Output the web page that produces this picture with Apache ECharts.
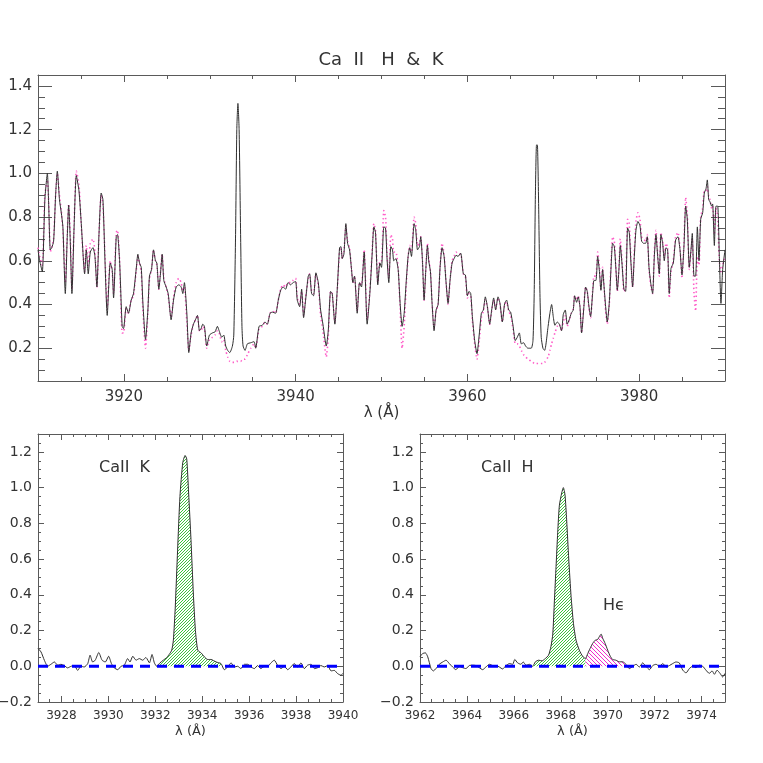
<!DOCTYPE html>
<html>
<head>
<meta charset="utf-8">
<script src="https://cdn.jsdelivr.net/npm/echarts@6/dist/echarts.min.js"></script>
<style>html,body{margin:0;padding:0;background:#fff}#c{width:763px;height:763px}</style>
</head>
<body>
<div id="c"></div>
<script>
// ---------------- DATA ----------------
const topWave = [
3910.0,3910.2,3910.5,3910.8,3911.09,3911.25,3911.43,3911.6,3911.82,3912.05,
3912.25,3912.5,3912.71,3912.9,3913.18,3913.4,3913.57,3913.75,3913.95,3914.2,
3914.46,3914.77,3915.04,3915.43,3915.62,3915.85,3916.09,3916.4,3916.63,3916.86,
3917.1,3917.36,3917.56,3917.8,3918.06,3918.41,3918.64,3918.8,3919.11,3919.26,
3919.5,3919.8,3919.96,3920.27,3920.54,3920.85,3921.12,3921.43,3921.63,3921.82,
3922.02,3922.21,3922.52,3922.79,3922.98,3923.22,3923.45,3923.68,3923.84,3924.07,
3924.26,3924.46,3924.65,3924.92,3925.16,3925.5,3925.78,3926.09,3926.4,3926.67,
3926.86,3927.05,3927.33,3927.56,3927.83,3928.1,3928.33,3928.57,3928.8,3928.99,
3929.19,3929.38,3929.65,3929.96,3930.31,3930.62,3930.89,3931.09,3931.4,3931.63,
3931.86,3932.09,3932.33,3932.64,3932.8,3933.0,3933.15,3933.28,3933.42,3933.6,
3933.75,3933.88,3934.11,3934.38,3934.77,3935.16,3935.35,3935.74,3936.12,3936.43,
3936.71,3937.02,3937.29,3937.67,3937.98,3938.26,3938.53,3938.84,3939.11,3939.42,
3939.69,3940.0,3940.19,3940.47,3940.7,3940.93,3941.16,3941.47,3941.63,3941.86,
3942.09,3942.36,3942.64,3942.91,3943.18,3943.57,3943.8,3944.07,3944.26,3944.57,
3944.84,3945.12,3945.27,3945.43,3945.62,3945.85,3946.05,3946.28,3946.51,3946.67,
3946.86,3947.17,3947.44,3947.67,3947.98,3948.33,3948.64,3948.91,3949.11,3949.3,
3949.57,3949.81,3950.0,3950.27,3950.47,3950.66,3950.85,3951.09,3951.28,3951.43,
3951.67,3951.94,3952.17,3952.4,3952.64,3952.87,3953.1,3953.29,3953.49,3953.8,
3953.99,3954.19,3954.42,3954.57,3954.77,3954.96,3955.16,3955.35,3955.5,3955.7,
3955.89,3956.12,3956.36,3956.59,3956.82,3957.05,3957.29,3957.52,3957.75,3957.98,
3958.22,3958.45,3958.68,3958.91,3959.22,3959.53,3959.77,3960.0,3960.19,3960.39,
3960.58,3960.85,3961.12,3961.4,3961.63,3961.86,3962.09,3962.33,3962.6,3962.83,
3963.06,3963.29,3963.57,3963.8,3964.07,3964.34,3964.57,3964.81,3965.04,3965.31,
3965.58,3965.81,3966.05,3966.28,3966.55,3966.78,3967.05,3967.44,3967.64,3967.78,
3967.92,3968.05,3968.15,3968.3,3968.45,3968.6,3968.8,3969.0,3969.4,3969.61,
3969.81,3970.0,3970.19,3970.47,3970.7,3970.97,3971.17,3971.4,3971.63,3971.86,
3972.1,3972.33,3972.49,3972.72,3972.91,3973.11,3973.3,3973.57,3973.77,3973.96,
3974.16,3974.35,3974.58,3974.74,3974.97,3975.17,3975.36,3975.55,3975.75,3975.9,
3976.1,3976.29,3976.52,3976.72,3976.91,3977.11,3977.3,3977.46,3977.65,3977.81,
3978.0,3978.23,3978.43,3978.66,3978.85,3979.05,3979.24,3979.44,3979.63,3979.86,
3980.1,3980.29,3980.52,3980.76,3980.95,3981.15,3981.38,3981.57,3981.77,3981.96,
3982.16,3982.35,3982.54,3982.74,3982.93,3983.13,3983.32,3983.51,3983.71,3983.98,
3984.25,3984.52,3984.76,3984.99,3985.22,3985.42,3985.61,3985.84,3986.04,3986.19,
3986.39,3986.58,3986.78,3986.97,3987.17,3987.4,3987.59,3987.79,3987.94,3988.1,
3988.25,3988.45,3988.56,3988.76,3988.95,3989.15,3989.34,3989.53,3989.73,3990.0
];
const topObserved = [
0.65,0.60,0.55,0.88,1.00,0.85,0.65,0.66,0.69,0.90,
1.01,0.88,0.82,0.755,0.45,0.70,0.855,0.70,0.45,0.75,
0.99,0.92,0.77,0.54,0.65,0.54,0.64,0.66,0.62,0.48,
0.72,0.91,0.88,0.60,0.35,0.59,0.56,0.43,0.71,0.72,
0.60,0.30,0.29,0.39,0.36,0.42,0.45,0.56,0.63,0.59,
0.57,0.41,0.24,0.37,0.53,0.56,0.65,0.60,0.59,0.47,
0.54,0.63,0.51,0.48,0.45,0.33,0.42,0.48,0.49,0.48,
0.45,0.50,0.36,0.18,0.27,0.31,0.33,0.35,0.28,0.29,
0.31,0.30,0.21,0.26,0.27,0.275,0.30,0.28,0.25,0.26,
0.21,0.19,0.18,0.21,0.26,0.70,1.20,1.32,1.20,0.70,
0.30,0.21,0.19,0.22,0.225,0.23,0.20,0.30,0.305,0.32,
0.31,0.36,0.365,0.36,0.42,0.465,0.48,0.47,0.50,0.49,
0.50,0.505,0.42,0.39,0.47,0.34,0.42,0.53,0.54,0.45,
0.44,0.545,0.50,0.375,0.31,0.21,0.28,0.46,0.45,0.31,
0.465,0.66,0.665,0.61,0.63,0.77,0.68,0.65,0.56,0.50,
0.53,0.36,0.50,0.48,0.64,0.31,0.45,0.63,0.755,0.73,
0.49,0.59,0.57,0.755,0.75,0.60,0.50,0.665,0.65,0.60,
0.61,0.56,0.405,0.30,0.36,0.50,0.62,0.66,0.62,0.77,
0.74,0.65,0.665,0.71,0.60,0.42,0.56,0.67,0.60,0.55,
0.405,0.28,0.375,0.40,0.57,0.66,0.62,0.50,0.405,0.51,
0.59,0.61,0.625,0.62,0.635,0.54,0.535,0.44,0.46,0.45,
0.345,0.235,0.175,0.27,0.36,0.375,0.435,0.39,0.31,0.375,
0.43,0.375,0.435,0.405,0.32,0.405,0.42,0.375,0.365,0.305,
0.235,0.25,0.27,0.22,0.225,0.21,0.20,0.20,0.235,0.45,
0.90,1.13,1.13,0.85,0.45,0.25,0.20,0.19,0.30,0.36,
0.40,0.345,0.305,0.32,0.31,0.28,0.355,0.375,0.31,0.33,
0.36,0.375,0.44,0.41,0.435,0.39,0.27,0.39,0.48,0.46,
0.39,0.345,0.45,0.51,0.51,0.62,0.56,0.465,0.56,0.49,
0.39,0.32,0.405,0.56,0.68,0.665,0.56,0.465,0.56,0.67,
0.59,0.47,0.46,0.75,0.73,0.59,0.48,0.62,0.74,0.78,
0.76,0.69,0.68,0.68,0.71,0.57,0.49,0.45,0.62,0.72,
0.62,0.54,0.72,0.68,0.60,0.66,0.65,0.45,0.565,0.59,
0.695,0.71,0.65,0.535,0.665,0.85,0.79,0.57,0.65,0.725,
0.53,0.53,0.755,0.60,0.79,0.82,0.91,0.93,0.97,0.88,
0.87,0.85,0.86,0.67,0.85,0.85,0.62,0.405,0.56,0.65
];
const topTemplate = [
0.66,0.62,0.58,0.90,0.97,0.86,0.64,0.66,0.70,0.90,
1.00,0.90,0.83,0.74,0.50,0.72,0.86,0.72,0.47,0.76,
1.01,0.95,0.76,0.55,0.67,0.58,0.68,0.70,0.64,0.48,
0.72,0.90,0.86,0.62,0.38,0.60,0.55,0.45,0.73,0.74,
0.60,0.27,0.27,0.38,0.36,0.42,0.44,0.55,0.62,0.59,
0.55,0.38,0.20,0.36,0.52,0.56,0.65,0.60,0.58,0.47,
0.55,0.63,0.52,0.48,0.44,0.34,0.43,0.50,0.52,0.50,
0.46,0.48,0.32,0.19,0.26,0.31,0.33,0.35,0.28,0.28,
0.30,0.29,0.20,0.24,0.25,0.26,0.28,0.27,0.23,0.24,
0.19,0.16,0.14,0.135,0.135,0.135,0.14,0.14,0.14,0.14,
0.145,0.15,0.15,0.17,0.20,0.22,0.20,0.29,0.30,0.32,
0.31,0.36,0.37,0.36,0.42,0.47,0.49,0.48,0.50,0.50,
0.51,0.52,0.43,0.40,0.46,0.35,0.43,0.52,0.54,0.46,
0.45,0.54,0.49,0.35,0.28,0.16,0.25,0.46,0.45,0.32,
0.46,0.65,0.66,0.61,0.64,0.76,0.69,0.66,0.56,0.50,
0.53,0.37,0.50,0.49,0.65,0.33,0.46,0.64,0.77,0.74,
0.50,0.60,0.60,0.83,0.80,0.62,0.52,0.72,0.70,0.64,
0.64,0.57,0.38,0.20,0.30,0.48,0.62,0.67,0.64,0.80,
0.77,0.67,0.68,0.71,0.60,0.42,0.56,0.68,0.61,0.55,
0.41,0.29,0.37,0.40,0.57,0.68,0.63,0.50,0.40,0.51,
0.60,0.62,0.64,0.63,0.63,0.54,0.53,0.43,0.45,0.44,
0.33,0.22,0.15,0.24,0.34,0.37,0.42,0.39,0.31,0.37,
0.42,0.38,0.43,0.40,0.32,0.40,0.41,0.37,0.35,0.29,
0.22,0.22,0.21,0.19,0.17,0.16,0.15,0.14,0.135,0.13,
0.13,0.13,0.13,0.13,0.13,0.13,0.13,0.135,0.16,0.19,
0.22,0.245,0.27,0.30,0.31,0.28,0.32,0.35,0.30,0.33,
0.36,0.38,0.44,0.42,0.44,0.39,0.27,0.40,0.48,0.46,
0.38,0.34,0.46,0.53,0.53,0.64,0.58,0.47,0.57,0.49,
0.37,0.31,0.40,0.58,0.71,0.69,0.56,0.46,0.57,0.70,
0.61,0.46,0.47,0.79,0.77,0.60,0.48,0.64,0.78,0.82,
0.79,0.71,0.70,0.69,0.72,0.56,0.48,0.45,0.64,0.74,
0.63,0.53,0.73,0.69,0.61,0.68,0.66,0.43,0.55,0.60,
0.71,0.73,0.66,0.52,0.68,0.89,0.81,0.56,0.64,0.70,
0.45,0.37,0.62,0.58,0.80,0.84,0.92,0.92,0.94,0.90,
0.88,0.84,0.85,0.72,0.84,0.80,0.60,0.55,0.58,0.62
];

const kWave = [
3927.0,3927.13,3927.27,3927.41,3927.55,3927.70,3927.84,3927.98,3928.12,3928.26,
3928.41,3928.55,3928.69,3928.83,3928.97,3929.12,3929.22,3929.33,3929.44,3929.59,
3929.73,3929.87,3930.01,3930.13,3930.25,3930.4,3930.54,3930.68,3930.82,3930.92,
3931.04,3931.18,3931.32,3931.46,3931.6,3931.75,3931.86,3931.96,3932.06,3932.2,
3932.34,3932.49,3932.6,3932.7,3932.77,3932.85,3932.95,3933.05,3933.17,3933.27,
3933.34,3933.42,3933.52,3933.62,3933.71,3933.81,3933.95,3934.09,3934.23,3934.37,
3934.59,3934.8,3934.94,3935.08,3935.23,3935.37,3935.51,3935.65,3935.8,3935.94,
3936.08,3936.22,3936.36,3936.5,3936.65,3936.79,3936.93,3937.07,3937.21,3937.36,
3937.5,3937.64,3937.78,3937.92,3938.07,3938.21,3938.35,3938.49,3938.64,3938.78,
3938.92,3939.06,3939.2,3939.35,3939.49,3939.63,3939.77,3939.91,3940.0
];
const kResidual = [
0.10,0.08,0.034,0.0,0.011,0.024,0.006,0.011,0.004,-0.009,
0.0,0.004,-0.023,0.0,-0.004,0.015,0.062,0.024,0.034,0.077,
0.034,0.024,0.056,0.015,-0.009,-0.019,0.0,0.006,0.043,0.024,
0.056,0.034,0.043,0.034,0.049,0.019,0.066,0.019,0.0,0.019,
0.034,0.049,0.068,0.09,0.146,0.33,0.65,0.95,1.14,1.18,
1.16,0.97,0.71,0.41,0.20,0.09,0.075,0.053,0.038,0.038,
0.024,0.015,-0.019,-0.004,0.019,-0.004,0.0,-0.013,0.011,0.011,
-0.004,-0.013,0.004,-0.013,0.0,0.0,0.019,0.034,0.006,-0.013,
0.0,-0.019,-0.004,0.015,-0.004,0.019,-0.013,0.006,0.011,-0.013,
-0.008,0.004,-0.004,0.004,-0.026,-0.023,-0.041,-0.05,-0.04
];

const hWave = [
3962.0,3962.11,3962.23,3962.33,3962.47,3962.57,3962.68,3962.82,3962.97,3963.11,
3963.25,3963.39,3963.53,3963.68,3963.82,3963.96,3964.1,3964.25,3964.39,3964.53,
3964.67,3964.81,3964.96,3965.1,3965.24,3965.38,3965.52,3965.67,3965.81,3965.95,
3966.04,3966.16,3966.3,3966.4,3966.52,3966.66,3966.8,3966.92,3967.06,3967.2,
3967.34,3967.48,3967.58,3967.66,3967.73,3967.8,3967.87,3967.94,3968.04,3968.11,
3968.18,3968.25,3968.34,3968.44,3968.54,3968.65,3968.79,3968.93,3969.05,3969.15,
3969.25,3969.36,3969.47,3969.57,3969.64,3969.72,3969.79,3969.89,3970.0,3970.11,
3970.21,3970.35,3970.5,3970.64,3970.78,3970.92,3971.07,3971.21,3971.35,3971.49,
3971.63,3971.78,3971.92,3972.06,3972.2,3972.35,3972.49,3972.63,3972.77,3972.91,
3973.05,3973.2,3973.34,3973.48,3973.62,3973.76,3973.91,3974.05,3974.19,3974.33,
3974.45,3974.55,3974.66,3974.79,3974.9,3975.0
];
const hResidual = [
0.053,0.071,0.075,0.053,-0.013,-0.026,-0.013,0.011,0.024,0.034,
0.015,-0.004,-0.019,0.0,-0.008,-0.013,0.004,0.006,0.004,-0.008,
-0.019,-0.004,0.011,0.004,0.004,-0.004,-0.015,0.004,0.015,0.011,
0.038,0.019,0.011,0.024,0.006,0.011,0.0,0.025,0.034,0.03,
0.043,0.062,0.11,0.18,0.37,0.56,0.75,0.90,0.97,1.0,
0.96,0.82,0.60,0.39,0.24,0.146,0.09,0.056,0.043,0.071,
0.10,0.128,0.146,0.15,0.165,0.18,0.156,0.128,0.09,0.056,
0.038,0.034,0.025,0.025,0.011,-0.013,0.0,0.011,-0.004,0.019,
0.0,-0.019,0.004,0.011,0.0,0.015,-0.004,0.004,0.015,0.024,
0.019,-0.022,-0.037,-0.013,0.0,-0.008,0.006,0.0,-0.022,-0.04,
-0.026,-0.045,-0.022,-0.04,-0.06,-0.04
];

const kFillRange = [3932.06, 3934.8];
const hFillRange = [3966.8, 3969.05];
const heFillRange = [3969.05, 3970.78];
const baseline = 0;

const topXRange = [3910, 3990], topYRange = [0.05, 1.45];
const kXRange = [3927, 3940], hXRange = [3962, 3975], botYRange = [-0.2, 1.3];
const topXTicks = [3920, 3940, 3960, 3980];
const topYTicks = [0.2, 0.4, 0.6, 0.8, 1.0, 1.2, 1.4];
const kXTicks = [3928, 3930, 3932, 3934, 3936, 3938, 3940];
const hXTicks = [3962, 3964, 3966, 3968, 3970, 3972, 3974];
const botYTicks = [-0.2, 0.0, 0.2, 0.4, 0.6, 0.8, 1.0, 1.2];

const titleText = 'Ca  II   H  &  K';
const xName = 'λ (Å)';
const kLabel = 'CaII  K', hLabel = 'CaII  H', heLabel = 'Hϵ';

// ---------------- CHART ----------------
const FRAME = '#5a5a5a', TEXT = '#333', FONT = 'DejaVu Sans';
const zip = (a, b) => a.map((x, i) => [x, b[i]]);
const within = (w, v, r) => zip(w, v).filter(p => p[0] >= r[0] - 1e-9 && p[0] <= r[1] + 1e-9);

function hatch(color, size, dir) {
  const c = document.createElement('canvas');
  c.width = size; c.height = size;
  const g = c.getContext('2d');
  g.strokeStyle = color; g.lineWidth = 1;
  g.beginPath();
  if (dir > 0) {
    g.moveTo(0, size); g.lineTo(size, 0);
    g.moveTo(-1, 1); g.lineTo(1, -1);
    g.moveTo(size - 1, size + 1); g.lineTo(size + 1, size - 1);
  } else {
    g.moveTo(0, 0); g.lineTo(size, size);
    g.moveTo(size - 1, -1); g.lineTo(size + 1, 1);
    g.moveTo(-1, size - 1); g.lineTo(1, size + 1);
  }
  g.stroke();
  return c;
}
const greenHatch = hatch('#3cc43c', 3, 1);
const pinkHatch = hatch('#f22ccc', 4, -1);

const xAxes = [], yAxes = [];
function addAxes(list, dim, grid, range, majors, minorInt, majLen, minLen, label, name) {
  const posMain = dim === 'x' ? 'bottom' : 'left';
  const posOpp = dim === 'x' ? 'top' : 'right';
  const base = () => ({type: 'value', gridIndex: grid, min: range[0], max: range[1],
    splitLine: {show: false}, minorTick: {show: false}, axisPointer: {show: false}, silent: true});
  const idx = list.length;
  const main = Object.assign(base(), {
    position: posMain,
    axisLine: {show: true, onZero: false, lineStyle: {color: FRAME, width: 1}},
    axisTick: {show: true, inside: true, length: majLen, customValues: majors, lineStyle: {color: FRAME}},
    axisLabel: label ? Object.assign({customValues: majors, color: TEXT, fontFamily: FONT}, label) : {show: false}
  });
  if (name) Object.assign(main, name);
  list.push(main);
  list.push(Object.assign(base(), {position: posMain, interval: minorInt,
    axisLine: {show: false, onZero: false},
    axisTick: {show: true, inside: true, length: minLen, lineStyle: {color: FRAME}},
    axisLabel: {show: false}}));
  list.push(Object.assign(base(), {position: posOpp,
    axisLine: {show: true, onZero: false, lineStyle: {color: FRAME, width: 1}},
    axisTick: {show: true, inside: true, length: majLen, customValues: majors, lineStyle: {color: FRAME}},
    axisLabel: {show: false}}));
  list.push(Object.assign(base(), {position: posOpp, interval: minorInt,
    axisLine: {show: false, onZero: false},
    axisTick: {show: true, inside: true, length: minLen, lineStyle: {color: FRAME}},
    axisLabel: {show: false}}));
  return idx;
}
const yFmt = v => v.toFixed(1).replace('-', '−');
const xFmt = v => String(Math.round(v));

// Top panel (grid 0)
const tX = addAxes(xAxes, 'x', 0, topXRange, topXTicks, 5, 7, 4,
  {fontSize: 15, margin: 9, formatter: xFmt},
  {name: xName, nameLocation: 'middle', nameGap: 22, nameTextStyle: {fontSize: 15, color: TEXT, fontFamily: FONT, verticalAlign: 'top'}});
const tY = addAxes(yAxes, 'y', 0, topYRange, topYTicks, 0.05, 14, 7,
  {fontSize: 15, margin: 6, formatter: yFmt});
// Bottom-left (grid 1)
const kX = addAxes(xAxes, 'x', 1, kXRange, kXTicks, 0.5, 6, 3,
  {fontSize: 12, margin: 8, formatter: xFmt},
  {name: xName, nameLocation: 'middle', nameGap: 23, nameTextStyle: {fontSize: 13, color: TEXT, fontFamily: FONT, verticalAlign: 'top'}});
const kY = addAxes(yAxes, 'y', 1, botYRange, botYTicks, 0.05, 6, 3,
  {fontSize: 14, margin: 6, formatter: yFmt});
// Bottom-right (grid 2)
const hX = addAxes(xAxes, 'x', 2, hXRange, hXTicks, 0.5, 6, 3,
  {fontSize: 12, margin: 8, formatter: xFmt},
  {name: xName, nameLocation: 'middle', nameGap: 23, nameTextStyle: {fontSize: 13, color: TEXT, fontFamily: FONT, verticalAlign: 'top'}});
const hY = addAxes(yAxes, 'y', 2, botYRange, botYTicks, 0.05, 6, 3,
  {fontSize: 14, margin: 6, formatter: yFmt});

const lineBase = {type: 'line', showSymbol: false, symbol: 'none', silent: true, animation: false};
function fillSeries(xi, yi, data, pattern) {
  return Object.assign({}, lineBase, {xAxisIndex: xi, yAxisIndex: yi, data, smooth: 0.2,
    lineStyle: {width: 0, opacity: 0},
    areaStyle: {color: {image: pattern, repeat: 'repeat'}, opacity: 1, origin: baseline}, z: 1});
}
function zeroSeries(xi, yi, range) {
  return Object.assign({}, lineBase, {xAxisIndex: xi, yAxisIndex: yi,
    data: [[range[0], baseline], [range[1], baseline]],
    lineStyle: {color: '#0000ff', width: 3, type: [10, 7]}, z: 5});
}

const series = [
  Object.assign({}, lineBase, {xAxisIndex: tX, yAxisIndex: tY, data: zip(topWave, topTemplate), smooth: 0.2,
    lineStyle: {color: '#ff5cc8', width: 1.6, type: [1.4, 2.8]}, z: 2}),
  Object.assign({}, lineBase, {xAxisIndex: tX, yAxisIndex: tY, data: zip(topWave, topObserved), smooth: 0.2,
    lineStyle: {color: '#2f2f2f', width: 1}, z: 3}),

  fillSeries(kX, kY, within(kWave, kResidual, kFillRange), greenHatch),
  Object.assign({}, lineBase, {xAxisIndex: kX, yAxisIndex: kY, data: zip(kWave, kResidual), smooth: 0.2,
    lineStyle: {color: '#2f2f2f', width: 1}, z: 3}),
  zeroSeries(kX, kY, kXRange),

  fillSeries(hX, hY, within(hWave, hResidual, hFillRange), greenHatch),
  fillSeries(hX, hY, within(hWave, hResidual, heFillRange), pinkHatch),
  Object.assign({}, lineBase, {xAxisIndex: hX, yAxisIndex: hY, data: zip(hWave, hResidual), smooth: 0.2,
    lineStyle: {color: '#2f2f2f', width: 1}, z: 3}),
  zeroSeries(hX, hY, hXRange)
];

const chart = echarts.init(document.getElementById('c'), null, {renderer: 'canvas', width: 763, height: 763});
chart.setOption({
  backgroundColor: '#fff',
  animation: false,
  grid: [
    {left: 38, top: 75, width: 687, height: 306, containLabel: false, outerBoundsMode: 'none'},
    {left: 38, top: 434, width: 305, height: 268, containLabel: false, outerBoundsMode: 'none'},
    {left: 420, top: 434, width: 305, height: 268, containLabel: false, outerBoundsMode: 'none'}
  ],
  xAxis: xAxes,
  yAxis: yAxes,
  series: series,
  graphic: [
    {type: 'text', x: 381, y: 60, silent: true,
      style: {text: titleText, fill: TEXT, fontSize: 18, fontFamily: FONT, align: 'center', verticalAlign: 'middle'}},
    {type: 'text', x: 99, y: 468, silent: true,
      style: {text: kLabel, fill: TEXT, fontSize: 16, fontFamily: FONT, align: 'left', verticalAlign: 'middle'}},
    {type: 'text', x: 481, y: 468, silent: true,
      style: {text: hLabel, fill: TEXT, fontSize: 16, fontFamily: FONT, align: 'left', verticalAlign: 'middle'}},
    {type: 'text', x: 603, y: 606, silent: true,
      style: {text: heLabel, fill: TEXT, fontSize: 16, fontFamily: FONT, align: 'left', verticalAlign: 'middle'}}
  ]
});
</script>
</body>
</html>
